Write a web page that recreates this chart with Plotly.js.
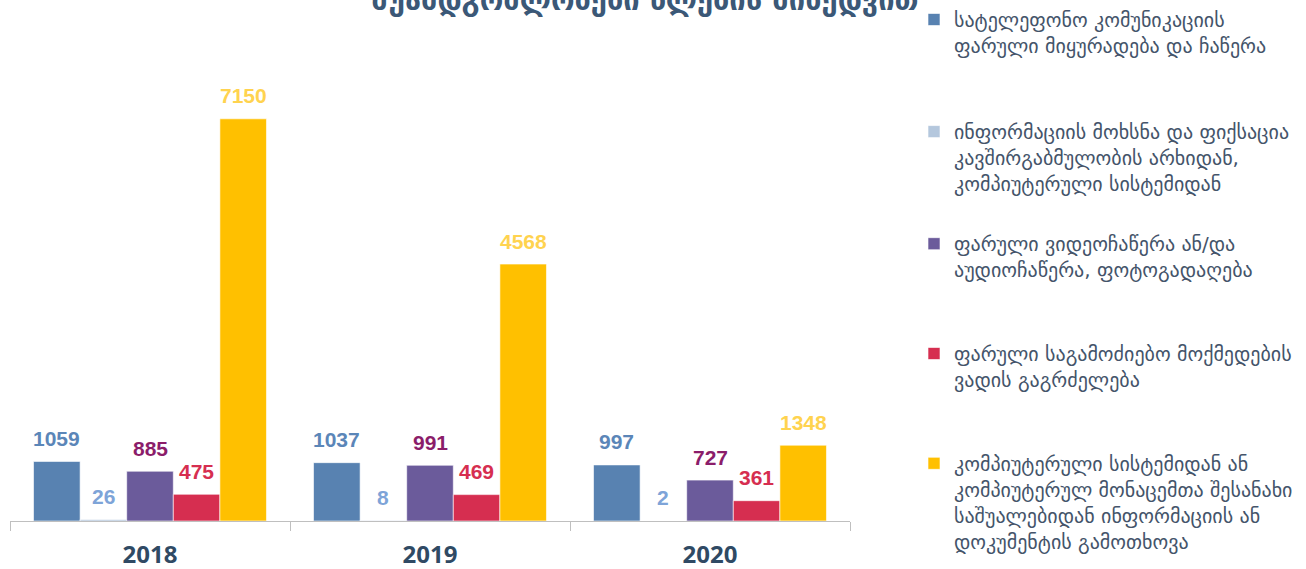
<!DOCTYPE html>
<html>
<head>
<meta charset="utf-8">
<script src="https://cdn.plot.ly/plotly-3.0.1.min.js"></script>
<style>html,body{margin:0;padding:0;background:#fff;}#chart{width:1306px;height:569px;}</style>
</head>
<body>
<div id="chart"></div>
<script>
const years = ['2018', '2019', '2020'];
const seriesNames = [
  'სატელეფონო კომუნიკაციის<br>ფარული მიყურადება და ჩაწერა',
  'ინფორმაციის მოხსნა და ფიქსაცია<br>კავშირგაბმულობის არხიდან,<br>კომპიუტერული სისტემიდან',
  'ფარული ვიდეოჩაწერა ან/და<br>აუდიოჩაწერა, ფოტოგადაღება',
  'ფარული საგამოძიებო მოქმედების<br>ვადის გაგრძელება',
  'კომპიუტერული სისტემიდან ან<br>კომპიუტერულ მონაცემთა შესანახი<br>საშუალებიდან ინფორმაციის ან<br>დოკუმენტის გამოთხოვა'
];
const telephone = [1059, 1037, 997];
const infoChannel = [26, 8, 2];
const video = [885, 991, 727];
const extension = [475, 469, 361];
const computer = [7150, 4568, 1348];
const seriesValues = [telephone, infoChannel, video, extension, computer];
const barColors = ['#5882b1', '#b4c7dd', '#6b5b9b', '#d62e50', '#ffc000'];
const labelColors = ['#5b86b8', '#7ea4d8', '#8b1d6a', '#d62e50', '#ffd34f'];
const titleText = 'შუამდგომლობები წლების მიხედვით';

const legendTops = [1.0, 0.803, 0.606, 0.413, 0.220];
const legendNames = ['legend', 'legend2', 'legend3', 'legend4', 'legend5'];

const traces = seriesValues.map((vals, i) => ({
  type: 'bar',
  name: seriesNames[i],
  x: years,
  y: vals,
  marker: {color: barColors[i], line: {color: 'rgba(255,255,255,0.6)', width: 1}},
  legend: legendNames[i],
  hoverinfo: 'skip'
}));

const plotWidthPx = 840;
const bargap = 0.168;
const barPx = plotWidthPx / 3 * (1 - bargap) / 5;

const annotations = [];
seriesValues.forEach((vals, i) => {
  vals.forEach((v, j) => {
    annotations.push({
      x: j, y: v, xref: 'x', yref: 'y',
      text: '<b>' + v + '</b>', showarrow: false,
      xshift: (i - 2) * barPx, yshift: 23, yanchor: 'middle',
      font: {family: 'Liberation Sans, Arial, sans-serif', size: 21, color: labelColors[i]}
    });
  });
});

const layout = {
  width: 1306, height: 569,
  margin: {l: 10, r: 456, t: 71, b: 48},
  paper_bgcolor: '#ffffff', plot_bgcolor: '#ffffff',
  barmode: 'group', bargap: bargap, bargroupgap: 0,
  title: {
    text: '<b>' + titleText + '</b>',
    x: 0.494, xref: 'container', xanchor: 'center',
    y: 1.0, yref: 'container', yanchor: 'middle',
    font: {family: 'DejaVu Sans, sans-serif', size: 29, color: '#3b5877'}
  },
  xaxis: {
    type: 'category', range: [-0.5, 2.5], autorange: false,
    showline: true, linecolor: '#bfbfbf', linewidth: 1,
    ticks: 'outside', tickson: 'boundaries', ticklen: 9, tickcolor: '#bfbfbf',
    showgrid: false, zeroline: false, ticklabelstandoff: 12,
    tickfont: {family: 'Open Sans, sans-serif', size: 24, color: '#2f4a64', weight: 'bold'}
  },
  yaxis: {range: [0, 8000], autorange: false, visible: false, showgrid: false, zeroline: false, fixedrange: true},
  annotations: annotations,
  showlegend: true
};
legendNames.forEach((ln, i) => {
  layout[ln] = {
    xref: 'container', yref: 'container',
    x: 914 / 1306, y: legendTops[i], xanchor: 'left', yanchor: 'top',
    valign: 'top', bgcolor: 'rgba(0,0,0,0)',
    font: {family: 'DejaVu Sans, sans-serif', size: 20, color: '#44546a'}
  };
});

Plotly.newPlot('chart', traces, layout, {displayModeBar: false, staticPlot: true});
</script>
</body>
</html>
